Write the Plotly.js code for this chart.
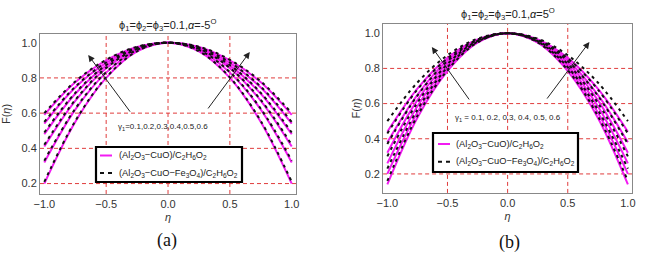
<!DOCTYPE html>
<html><head><meta charset="utf-8">
<script src="https://cdn.plot.ly/plotly-3.0.1.min.js"></script>
<style>html,body{margin:0;padding:0;background:#fff}#g{width:645px;height:260px}</style>
</head><body><div id="g"></div>
<script>
// eta sample points
const eta = [-1, -0.75, -0.5, -0.25, 0, 0.25, 0.5, 0.75, 1];
const gammaLabelsA = "γ<sub>1</sub>=0.1,0.2,0.3,0.4,0.5,0.6";
const gammaLabelsB = "γ<sub>1</sub> = 0.1, 0.2, 0.3, 0.4, 0.5, 0.6";
const nameSolid = "(Al<sub>2</sub>O<sub>3</sub>−CuO)/C<sub>2</sub>H<sub>6</sub>O<sub>2</sub>";
const nameDash = "(Al<sub>2</sub>O<sub>3</sub>−CuO−Fe<sub>3</sub>O<sub>4</sub>)/C<sub>2</sub>H<sub>6</sub>O<sub>2</sub>";
const titleA = "ϕ<sub>1</sub>=ϕ<sub>2</sub>=ϕ<sub>3</sub>=0.1,<i>α</i>=-5<sup>O</sup>";
const titleB = "ϕ<sub>1</sub>=ϕ<sub>2</sub>=ϕ<sub>3</sub>=0.1,<i>α</i>=5<sup>O</sup>";

// panel (a) alpha = -5 deg : (Al2O3-CuO)/C2H6O2
const aSolid = [
  [0.20, 0.55, 0.80, 0.950, 1, 0.950, 0.80, 0.55, 0.20],
  [0.32, 0.62, 0.83, 0.958, 1, 0.958, 0.83, 0.62, 0.32],
  [0.41, 0.67, 0.855, 0.964, 1, 0.964, 0.855, 0.67, 0.41],
  [0.48, 0.71, 0.87, 0.968, 1, 0.968, 0.87, 0.71, 0.48],
  [0.54, 0.745, 0.885, 0.972, 1, 0.972, 0.885, 0.745, 0.54],
  [0.59, 0.775, 0.90, 0.976, 1, 0.976, 0.90, 0.775, 0.59]
];
// panel (a) : (Al2O3-CuO-Fe3O4)/C2H6O2
const aDash = [
  [0.21, 0.555, 0.803, 0.951, 1, 0.951, 0.803, 0.555, 0.21],
  [0.33, 0.625, 0.833, 0.959, 1, 0.959, 0.833, 0.625, 0.33],
  [0.42, 0.675, 0.857, 0.965, 1, 0.965, 0.857, 0.675, 0.42],
  [0.49, 0.715, 0.873, 0.969, 1, 0.969, 0.873, 0.715, 0.49],
  [0.55, 0.75, 0.888, 0.973, 1, 0.973, 0.888, 0.75, 0.55],
  [0.60, 0.78, 0.903, 0.977, 1, 0.977, 0.903, 0.78, 0.60]
];
// panel (b) alpha = 5 deg : (Al2O3-CuO)/C2H6O2
const bSolid = [
  [0.14, 0.52, 0.785, 0.946, 1, 0.946, 0.785, 0.52, 0.14],
  [0.20, 0.55, 0.80, 0.950, 1, 0.950, 0.80, 0.55, 0.20],
  [0.26, 0.585, 0.815, 0.954, 1, 0.954, 0.815, 0.585, 0.26],
  [0.32, 0.62, 0.83, 0.958, 1, 0.958, 0.83, 0.62, 0.32],
  [0.38, 0.65, 0.845, 0.961, 1, 0.961, 0.845, 0.65, 0.38],
  [0.44, 0.685, 0.86, 0.965, 1, 0.965, 0.86, 0.685, 0.44]
];
// panel (b) : (Al2O3-CuO-Fe3O4)/C2H6O2
const bDash = [
  [0.16, 0.53, 0.79, 0.948, 1, 0.948, 0.79, 0.53, 0.16],
  [0.23, 0.565, 0.807, 0.952, 1, 0.952, 0.807, 0.565, 0.23],
  [0.30, 0.605, 0.825, 0.956, 1, 0.956, 0.825, 0.605, 0.30],
  [0.37, 0.645, 0.842, 0.961, 1, 0.961, 0.842, 0.645, 0.37],
  [0.43, 0.68, 0.857, 0.964, 1, 0.964, 0.857, 0.68, 0.43],
  [0.50, 0.72, 0.875, 0.969, 1, 0.969, 0.875, 0.72, 0.50]
];
const xTicks = [-1.0, -0.5, 0.0, 0.5, 1.0];
const yTicks = [0.2, 0.4, 0.6, 0.8, 1.0];
const xGrid = [-0.5, 0.0, 0.5];
const yGrid = [0.2, 0.4, 0.6, 0.8];

const MAG = '#f21bf2';
const DASH = '3px,4px';
const traces = [];
function add(arr, xa, ya, solid, name) {
  arr.forEach((ys, i) => {
    traces.push({
      x: eta, y: ys, xaxis: xa, yaxis: ya, type: 'scatter', mode: 'lines',
      line: solid ? {color: MAG, width: 2, shape: 'spline', smoothing: 1}
                  : {color: '#111', width: 2, dash: DASH, shape: 'spline', smoothing: 1},
      name: name, showlegend: false, hoverinfo: 'skip'
    });
  });
}
add(aSolid, 'x', 'y', true, nameSolid);
add(aDash, 'x', 'y', false, nameDash);
add(bSolid, 'x2', 'y2', true, nameSolid);
add(bDash, 'x2', 'y2', false, nameDash);

const GRID = '#e03c3c';
const TF = {family: 'Liberation Sans, Arial, sans-serif', size: 11, color: '#333'};
const TTF = {family: 'Liberation Sans, Arial, sans-serif', size: 11, color: '#333'};
function xax(dom, anchor) {
  return {domain: dom, anchor: anchor, range: [-1.035, 1.035], tickvals: xTicks, tickformat: '.1f',
    showgrid: false, zeroline: false,
    showline: true, mirror: true, linecolor: '#888', linewidth: 1, ticks: '', tickfont: TF,
    title: {text: '<i>η</i>', font: TTF, standoff: 4}};
}
function yax(dom, anchor, rng, so) {
  return {domain: dom, anchor: anchor, range: rng, tickvals: yTicks, tickformat: '.1f',
    showgrid: false, zeroline: false,
    showline: true, mirror: true, linecolor: '#888', linewidth: 1, ticks: '', tickfont: TF,
    title: {text: 'F(<i>η</i>)', font: TTF, standoff: so}};
}
const LF = {family: 'Liberation Sans, Arial, sans-serif', size: 9.3, color: '#222'};
const AF = {family: 'Liberation Sans, Arial, sans-serif', size: 8, color: '#222'};
const arrow = (xr, yr, x, y, ax, ay) => ({xref: xr, yref: yr, axref: xr, ayref: yr, x: x, y: y, ax: ax, ay: ay,
  text: '', showarrow: true, arrowhead: 2, arrowsize: 1.3, arrowwidth: 1, arrowcolor: '#222'});
const ptxt = (x, y, text, font, xa) => ({xref: 'paper', yref: 'paper', x: x / 645, y: 1 - y / 260, text: text,
  showarrow: false, font: font, xanchor: xa || 'center', yanchor: 'middle'});
const pline = (x0, x1, y, color, dash) => ({type: 'line', xref: 'paper', yref: 'paper',
  x0: x0 / 645, x1: x1 / 645, y0: 1 - y / 260, y1: 1 - y / 260, line: {color: color, width: 2, dash: dash || 'solid'}});
const prect = (x0, x1, y0, y1) => ({type: 'rect', xref: 'paper', yref: 'paper',
  x0: x0 / 645, x1: x1 / 645, y0: 1 - y0 / 260, y1: 1 - y1 / 260, fillcolor: '#fff', line: {color: '#000', width: 2.2}, layer: 'above'});

// grid lines in data coordinates (dashed red), as in the reference
const gridShapes = [];
[['x', 'y'], ['x2', 'y2']].forEach(([xa, ya]) => {
  xGrid.forEach(v => gridShapes.push({type: 'line', xref: xa, yref: ya + ' domain', x0: v, x1: v, y0: 0, y1: 1,
    line: {color: GRID, width: 1, dash: '4px,3px'}, layer: 'below'}));
  yGrid.forEach(v => gridShapes.push({type: 'line', xref: xa + ' domain', yref: ya, x0: 0, x1: 1, y0: v, y1: v,
    line: {color: GRID, width: 1, dash: '4px,3px'}, layer: 'below'}));
});

const layout = {
  width: 645, height: 260, margin: {l: 0, r: 0, t: 0, b: 0},
  paper_bgcolor: '#fff', plot_bgcolor: 'rgba(0,0,0,0)', showlegend: false,
  xaxis: xax([0.062, 0.459], 'y'),
  yaxis: yax([0.254, 0.869], 'x', [0.141, 1.049], 10),
  xaxis2: xax([0.594, 0.980], 'y2'),
  yaxis2: yax([0.258, 0.908], 'x2', [0.092, 1.053], 1),
  shapes: gridShapes.concat([
    prect(96, 242, 147, 182),
    pline(100, 112, 155.5, MAG),
    pline(100, 114, 173, '#111', '4px,4px'),
    prect(433, 578, 133, 172),
    pline(438, 450, 144, MAG),
    pline(438, 452, 161.7, '#111', '4px,4px')
  ]),
  annotations: [
    ptxt(167, 25, titleA, {family: 'Liberation Sans, Arial', size: 11, color: '#222'}),
    ptxt(508, 14, titleB, {family: 'Liberation Sans, Arial', size: 11, color: '#222'}),
    {xref: 'x', yref: 'y', x: -0.04, y: 0.52, text: gammaLabelsA, showarrow: false, font: AF},
    {xref: 'x2', yref: 'y2', x: 0.0, y: 0.52, text: gammaLabelsB, showarrow: false, font: AF},
    arrow('x', 'y', -0.645, 0.93, -0.298, 0.60),
    arrow('x', 'y', 0.661, 0.947, 0.315, 0.618),
    arrow('x2', 'y2', -0.63, 0.922, -0.311, 0.615),
    arrow('x2', 'y2', 0.68, 0.95, 0.319, 0.62),
    ptxt(117, 155.5, nameSolid, LF, 'left'),
    ptxt(117, 173, nameDash, LF, 'left'),
    ptxt(454, 144, nameSolid, LF, 'left'),
    ptxt(454, 161.7, nameDash, LF, 'left'),
    ptxt(167, 240, '(a)', {family: 'Liberation Serif, Times New Roman, serif', size: 18, color: '#111'}),
    ptxt(509, 242, '(b)', {family: 'Liberation Serif, Times New Roman, serif', size: 18, color: '#111'})
  ]
};
Plotly.newPlot('g', traces, layout, {staticPlot: true, displayModeBar: false});
</script></body></html>
